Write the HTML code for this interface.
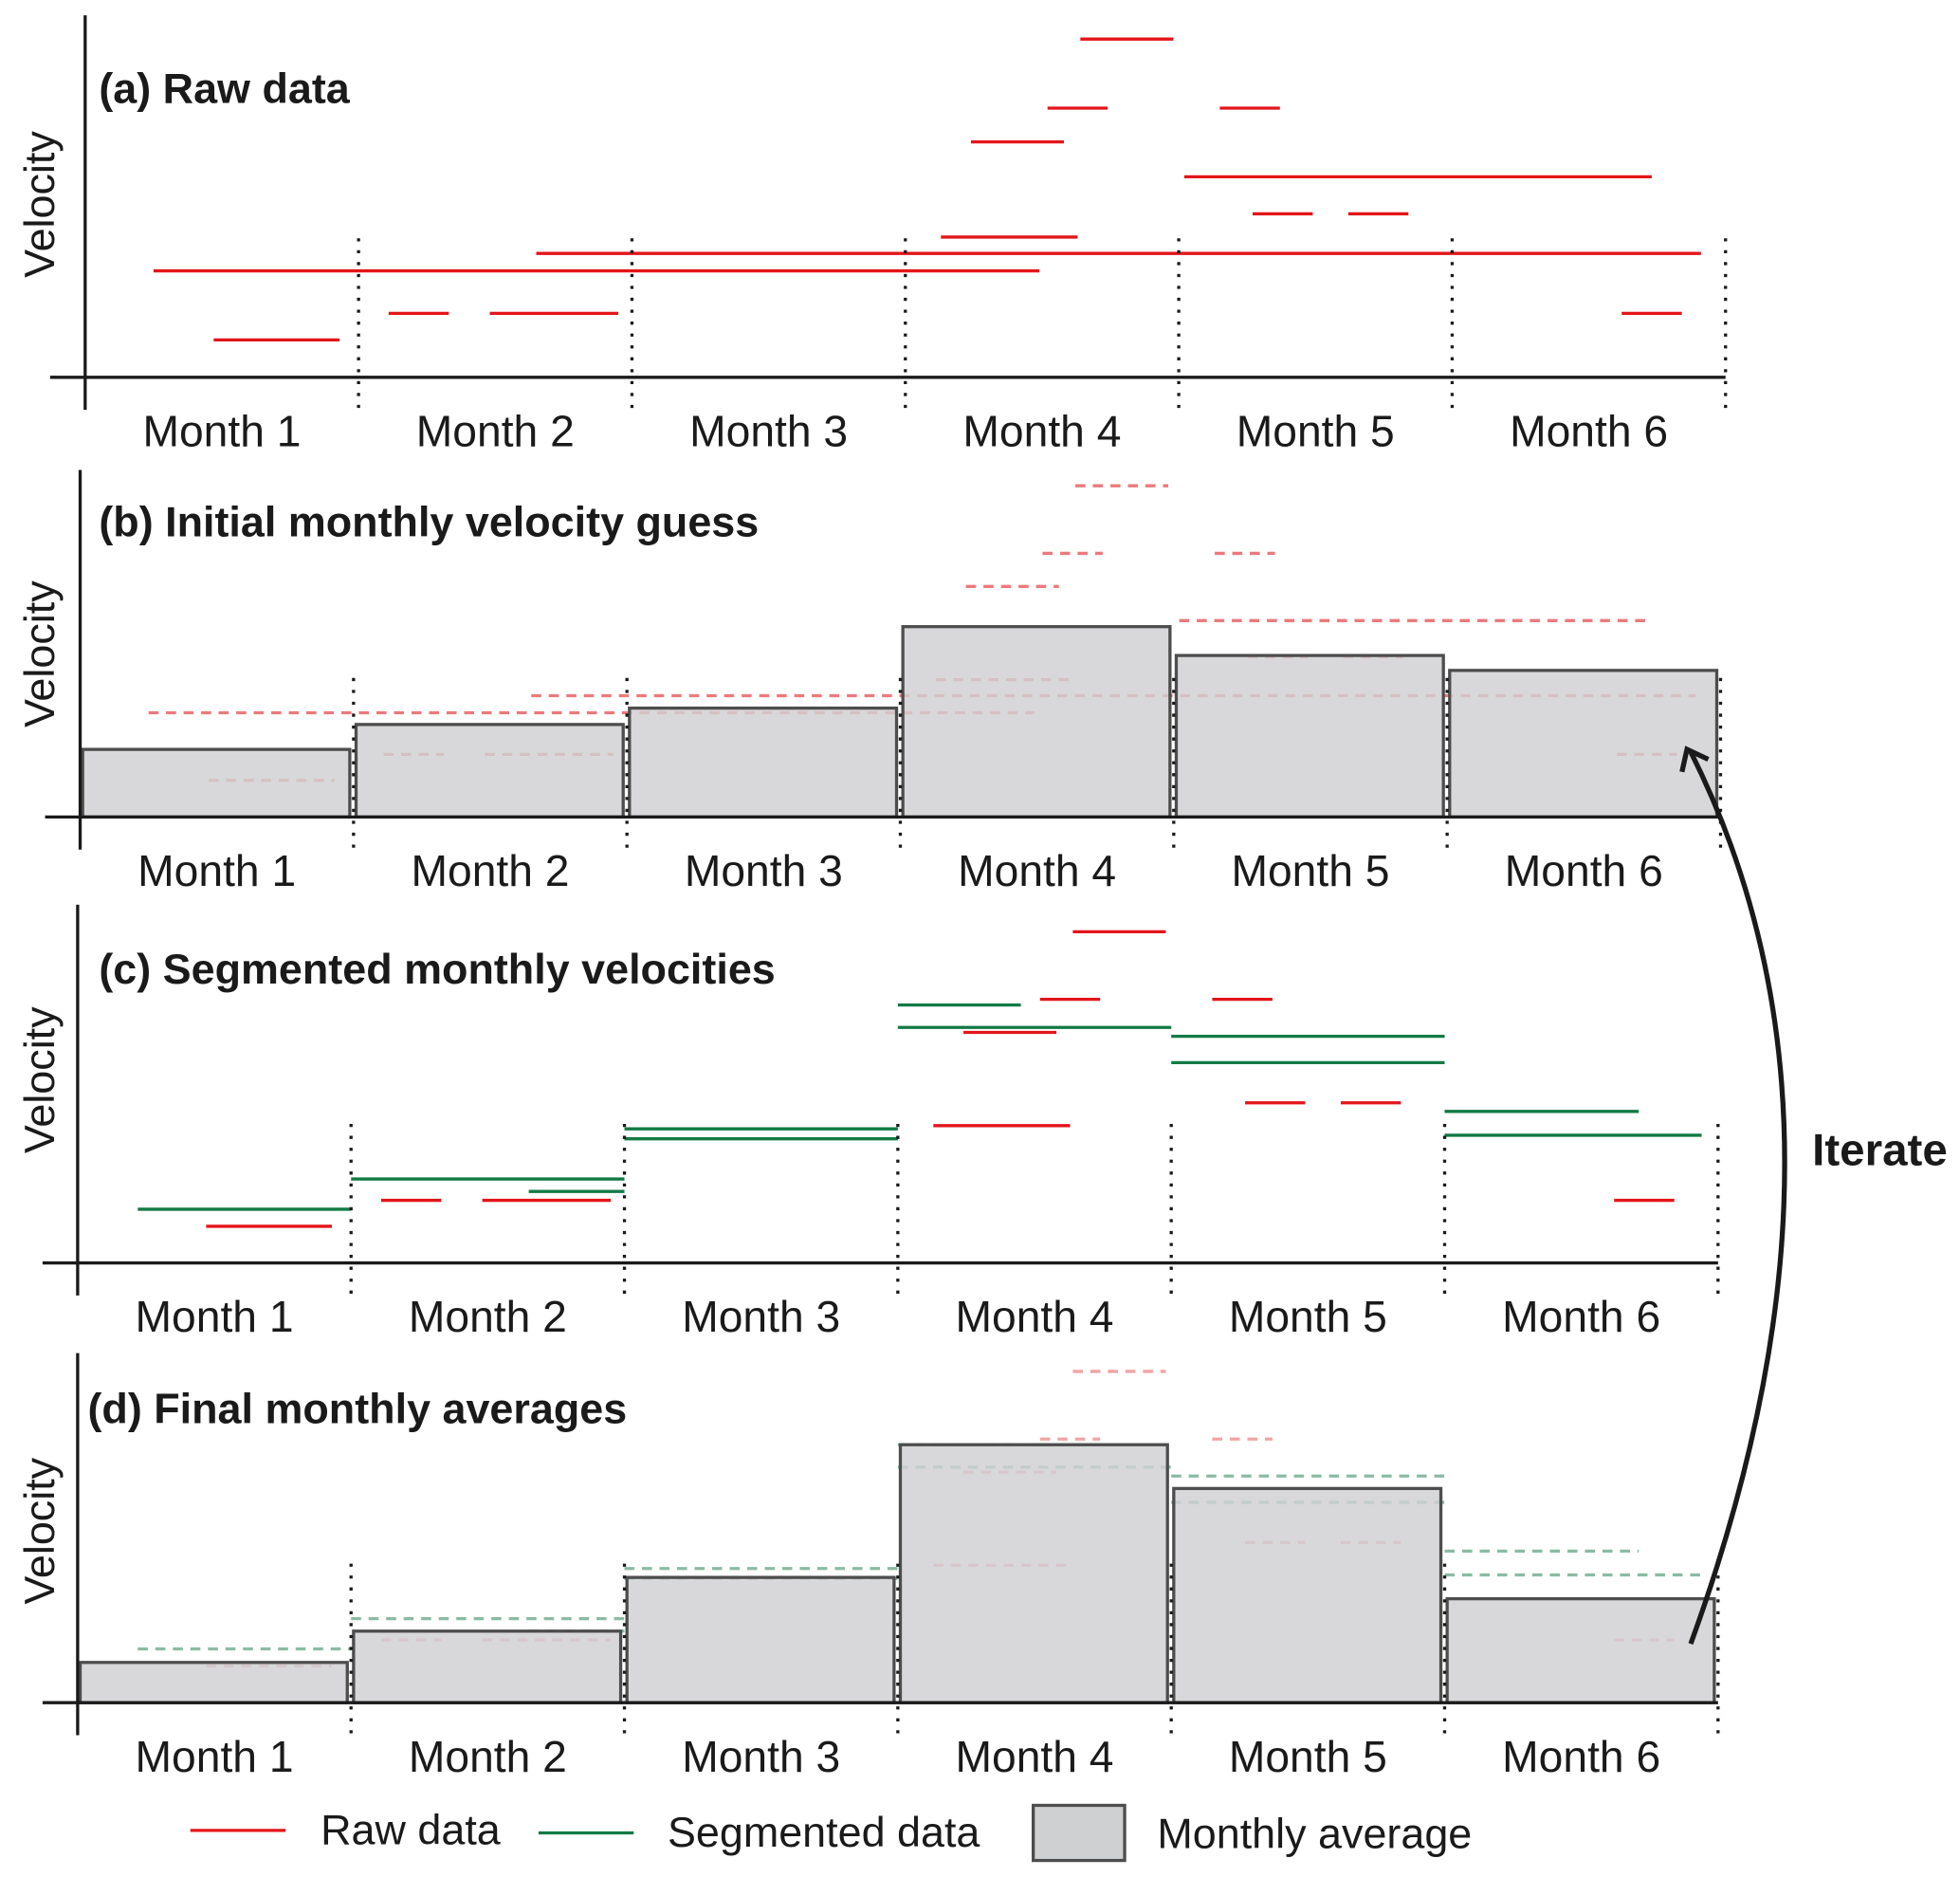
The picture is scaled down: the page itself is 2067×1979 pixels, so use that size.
<!DOCTYPE html>
<html><head><meta charset="utf-8">
<style>
html,body{margin:0;padding:0;background:#fff;}
svg{display:block;font-family:"Liberation Sans",sans-serif;}
</style></head>
<body>
<svg id="chart" width="2067" height="1979" viewBox="0 0 1565 1498" xmlns="http://www.w3.org/2000/svg">
<g id="layer"></g>
</svg>
<script>
// Raw data segments: start month, end month, velocity
const rawStart = [0.25,0.47,1.11,1.48,1.65,3.13,3.24,3.52,3.64,4.02,4.15,4.27,4.62,5.62];
const rawEnd   = [3.49,0.93,1.33,1.95,5.91,3.63,3.58,3.74,3.98,5.73,4.37,4.49,4.84,5.84];
const rawVel   = [29.3,10.3,17.6,17.6,34.1,38.6,64.8,74.1,93.1,55.2,74.1,45,45,17.6];
// raw segments that are short enough to remain in panels c/d
const shortIdx = [1,2,3,5,6,7,8,10,11,12,13];
// Segmented data
const segStart = [0.22,1.0,1.65,2.0,2.0,3.0,3.0,4.0,4.0,5.0,5.0];
const segEnd   = [1.0,2.0,2.0,3.0,3.0,3.45,4.0,5.0,5.0,5.71,5.94];
const segVel   = [15.1,23.6,20.1,37.7,34.9,72.5,66.2,63.7,56.3,42.6,35.9];
// Monthly averages
const guessAvg = [19,26,30.6,53.5,45.4,41.2];
const finalAvg = [11.3,20.1,35.2,72.5,60.2,29.2];
const months = ["Month 1","Month 2","Month 3","Month 4","Month 5","Month 6"];

const NS="http://www.w3.org/2000/svg";
const layer=document.getElementById('layer');
function mk(tag,attrs,parent){const e=document.createElementNS(NS,tag);for(const k in attrs)e.setAttribute(k,attrs[k]);(parent||layer).appendChild(e);return e;}
const W=218.3;
const panels=[
 {id:'a',x0:68,base:301,top:12,k:2.9,title:'(a) Raw data',tx:79,ty:82,vy:163},
 {id:'b',x0:64,base:652,top:375,k:2.84,title:'(b) Initial monthly velocity guess',tx:79,ty:428,vy:522},
 {id:'c',x0:62,base:1008,top:722,k:2.84,title:'(c) Segmented monthly velocities',tx:79,ty:785,vy:862},
 {id:'d',x0:62,base:1359,top:1080,k:2.84,title:'(d) Final monthly averages',tx:70,ty:1136,vy:1222}
];
panels.forEach(p=>{
  const g=mk('g',{});
  
  
  const X=t=>p.x0+t*W, Y=v=>p.base-v*p.k;
  function seg(s,e,v,stroke,dash,op,name){
    const l=mk('line',{x1:X(s),x2:X(e),y1:Y(v),y2:Y(v),stroke:stroke,'stroke-width':2.5,'stroke-dasharray':dash||'none',opacity:op},g);
    
    
  }
  if(p.id==='a'){
    rawVel.forEach((v,i)=>seg(rawStart[i],rawEnd[i],v,'#e3151a',null,1,'raw-segment'));
  } else if(p.id==='b'){
    rawVel.forEach((v,i)=>seg(rawStart[i],rawEnd[i],v,'#e8585c','8,6',0.8,'raw-segment-faded'));
  } else if(p.id==='c'){
    shortIdx.forEach(i=>seg(rawStart[i],rawEnd[i],rawVel[i],'#e3151a',null,1,'raw-segment'));
    segVel.forEach((v,i)=>seg(segStart[i],segEnd[i],v,'#127a45',null,1,'segmented-line'));
  } else {
    shortIdx.forEach(i=>seg(rawStart[i],rawEnd[i],rawVel[i],'#e8585c','8,6',0.55,'raw-segment-faded'));
    segVel.forEach((v,i)=>seg(segStart[i],segEnd[i],v,'#3d8f68','8,6',0.6,'segmented-line-faded'));
  }
  const avg = p.id==='b'?guessAvg:(p.id==='d'?finalAvg:null);
  if(avg){
    avg.forEach((v,i)=>{
      const r=mk('rect',{x:X(i)+2,y:Y(v),width:W-5,height:v*p.k,fill:'#cfd0d2','fill-opacity':0.82,stroke:'#4d4d4d','stroke-width':2.5},g);
      
      
    });
  }
  const ya=mk('line',{x1:p.x0,x2:p.x0,y1:p.top,y2:p.base+26,stroke:'#1a1a1a','stroke-width':2.5},g);
  
  const xa=mk('line',{x1:p.x0-28,x2:p.x0+6*W,y1:p.base,y2:p.base,stroke:'#1a1a1a','stroke-width':2.5},g);
  
  for(let i=1;i<=6;i++){
    const d=mk('line',{x1:p.x0+i*W,x2:p.x0+i*W,y1:p.base-111,y2:p.base+29,stroke:'#1a1a1a','stroke-width':2.5,'stroke-dasharray':'2.5,7'},g);
    
  }
  months.forEach((m,i)=>{
    const t=mk('text',{x:p.x0+(i+0.5)*W,y:p.base+55,'text-anchor':'middle','font-size':35,fill:'#1a1a1a'},g);
    t.textContent=m;
    
  });
  const tt=mk('text',{x:p.tx,y:p.ty,'font-size':34,'font-weight':'bold',fill:'#1a1a1a'},g);
  tt.textContent=p.title;
  
  const vt=mk('text',{x:0,y:0,'font-size':34,'text-anchor':'middle',fill:'#1a1a1a',transform:'translate(43,'+p.vy+') rotate(-90)'},g);
  vt.textContent='Velocity';
  
});
const arr=mk('path',{d:'M1350,1312 Q1500,900 1350,600',fill:'none',stroke:'#1a1a1a','stroke-width':4});

const head=mk('path',{d:'M1343,616 L1347,598 L1364,606',fill:'none',stroke:'#1a1a1a','stroke-width':4});

const it=mk('text',{x:1447,y:930,'font-size':36,'font-weight':'bold',fill:'#1a1a1a'});
it.textContent='Iterate';

const lg=mk('g',{});

const l1=mk('line',{x1:152,x2:228,y1:1461,y2:1461,stroke:'#e3151a','stroke-width':2.5},lg);

const t1=mk('text',{x:256,y:1472,'font-size':34,fill:'#1a1a1a'},lg);t1.textContent='Raw data';

const l2=mk('line',{x1:430,x2:506,y1:1463,y2:1463,stroke:'#127a45','stroke-width':2.5},lg);

const t2=mk('text',{x:533,y:1474,'font-size':34,fill:'#1a1a1a'},lg);t2.textContent='Segmented data';

const r3=mk('rect',{x:825,y:1441,width:73,height:44,fill:'#cfd0d2',stroke:'#4d4d4d','stroke-width':2.5},lg);

const t3=mk('text',{x:924,y:1475,'font-size':34,fill:'#1a1a1a'},lg);t3.textContent='Monthly average';

</script>
</body></html>
